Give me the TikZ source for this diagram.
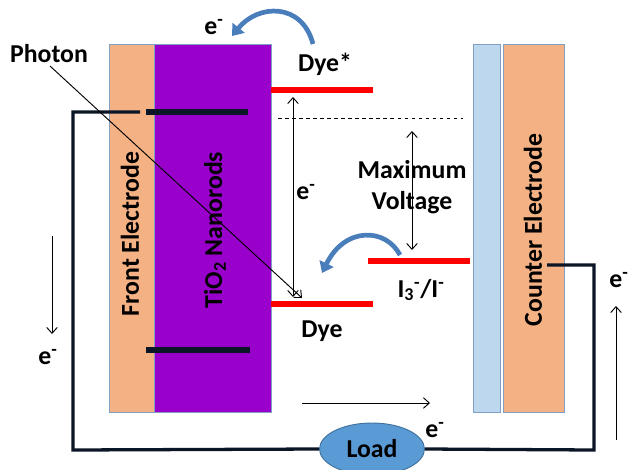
\documentclass[tikz,border=0pt]{standalone}
\usepackage{fontspec}
\setmainfont{Carlito}
\usetikzlibrary{arrows.meta,shapes.geometric}
\definecolor{peach}{HTML}{F4B183}
\definecolor{nanorod}{HTML}{9900CC}
\definecolor{paleblue}{HTML}{BDD7EE}
\definecolor{layeredge}{HTML}{7F9FC5}
\definecolor{loadblue}{HTML}{5B9BD5}
\definecolor{loadedge}{HTML}{41719C}
\definecolor{curlblue}{HTML}{4A7EBB}
\definecolor{wirecol}{HTML}{0A1526}

\begin{document}
\begin{tikzpicture}
            [x=0.03cm,y=-0.03cm,every node/.style={font=\bfseries\fontsize{22}{26}\selectfont,inner sep=1pt},
             layer/.style={draw=layeredge,line width=0.6pt},
             level/.style={red,line width=4.3pt},
             bar/.style={wirecol,line width=4.3pt},
             wire/.style={wirecol,line width=2.8pt},
             flow/.style={line width=0.8pt,-{Straight Barb[length=5pt,width=9pt]}},
             both/.style={line width=0.8pt,{Straight Barb[length=5pt,width=9pt]}-{Straight Barb[length=5pt,width=9pt]}},
             curl/.style={curlblue,line width=4pt,-{Triangle[length=9pt,width=13pt]}}]
            \useasboundingbox (0,0) rectangle (638,469);
            % the cell layers
            \draw[layer,fill=peach] (109,44) rectangle (154,412);
            \draw[layer,fill=nanorod] (154,44) rectangle (271,412);
            \draw[layer,fill=paleblue] (473,44) rectangle (500,412);
            \draw[layer,fill=peach] (503,44) rectangle (564,412);
            \node[rotate=90] (front) at (130,234) {Front Electrode};
            \node[rotate=90] (tio) at (215,230) {TiO\textsubscript{2} Nanorods};
            \node[rotate=90] (counter) at (533,230) {Counter Electrode};
            % energy levels
            \draw[level] (271,90) -- (373,90);
            \draw[level] (271,304) -- (373,304);
            \draw[level] (368,261) -- (470,261);
            \draw[dashed,thin] (278,118) -- (463,118);
            \draw[bar] (146,112) -- (248,112);
            \draw[bar] (146,350) -- (250,350);
            % labels
            \node (photon) at (49,54) {Photon};
            \node (etop) at (214,27) {e\textsuperscript{-}};
            \node (dyestar) at (325,64) {Dye*};
            \node (emid) at (306,192) {e\textsuperscript{-}};
            \node[align=center,font=\bfseries\fontsize{22}{26.5}\selectfont] (maxv) at (412,187) {Maximum\\Voltage};
            \node (redox) at (421,290) {I\textsubscript{3}\textsuperscript{-}/I\textsuperscript{-}};
            \node (dye) at (322,331) {Dye};
            \node (eleft) at (48,357) {e\textsuperscript{-}};
            \node (eright) at (619,280) {e\textsuperscript{-}};
            \node (ebottom) at (435,430) {e\textsuperscript{-}};
            \node[ellipse,fill=loadblue,draw=loadedge,line width=0.8pt,minimum width=3.15cm,minimum height=1.56cm] (load) at (372,449) {Load};
            % external circuit
            \coordinate (fronttap) at (140,112);
            \coordinate (countertap) at (547,265);
            \draw[wire] (fronttap) -- (73,112) -- (73,450) -- (load.west);
            \draw[wire] (load.east) -- (594,450) -- (594,265) -- (countertap);
            % arrows
            \coordinate (hit) at (302,298);
            \draw[flow] (50,66) -- (hit);
            \draw[both] (293,97) -- (293,297);
            \draw[both] (412,131) -- (412,250);
            \draw[flow] (52,236) -- (52,334);
            \draw[flow] (616,440) -- (616,306);
            \draw[flow] (302,403) -- (430,403);
            \draw[curl] (313,44) .. controls (302,2) and (258,4) .. (232,36);
            \draw[curl] (400,255) .. controls (386,228) and (345,226) .. (322,273);
        \end{tikzpicture}
\end{document}
